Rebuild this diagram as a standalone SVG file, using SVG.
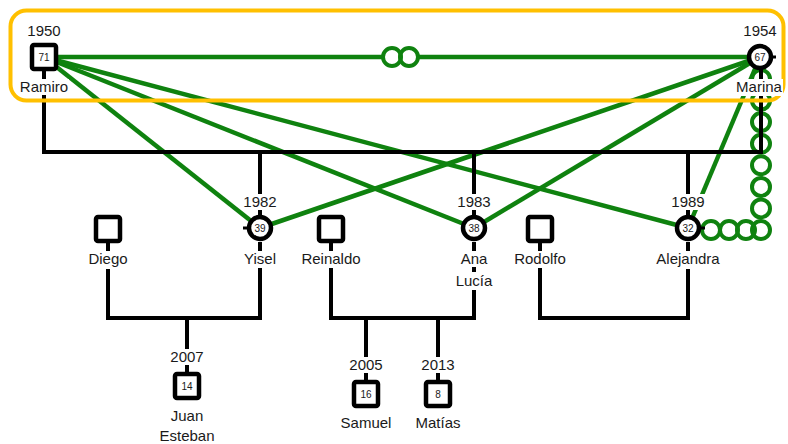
<svg xmlns="http://www.w3.org/2000/svg" width="788" height="444" viewBox="0 0 788 444">
  <style>
    text { font-family: "Liberation Sans", Arial, sans-serif; font-size: 15px; fill: #1a1a1a; text-anchor: middle; }
    text.age { font-size: 10px; }
    .bg { fill: #fff; }
    .fam { stroke: #000; stroke-width: 4; fill: none; }
    .tick { stroke: #000; stroke-width: 3; fill: none; }
    .rel { stroke: #0f820f; stroke-width: 4.5; fill: none; }
    .ring { stroke: #0f820f; stroke-width: 4; fill: none; }
    .male { fill: #fff; stroke: #000; stroke-width: 4.5; }
    .female { fill: #fff; stroke: #000; stroke-width: 4.5; }
    .house { fill: none; stroke: #ffc000; stroke-width: 4; }
  </style>

  <!-- relationship links (green) -->
  <g id="relations">
    <line class="rel" x1="44" y1="57" x2="382" y2="57"/>
    <line class="rel" x1="419" y1="57" x2="760" y2="57"/>
    <circle class="ring" cx="392" cy="57" r="9"/>
    <circle class="ring" cx="409" cy="57" r="9"/>
    <line class="rel" x1="44" y1="57" x2="260" y2="228"/>
    <line class="rel" x1="44" y1="57" x2="474" y2="228"/>
    <line class="rel" x1="44" y1="57" x2="688" y2="228"/>
    <line class="rel" x1="760" y1="57" x2="260" y2="228"/>
    <line class="rel" x1="760" y1="57" x2="474" y2="228"/>
    <line class="rel" x1="760" y1="57" x2="688" y2="228"/>
    <!-- chain of rings Marina to Alejandra -->
    <g id="chain">
      <circle class="ring" cx="761" cy="79" r="9"/>
      <circle class="ring" cx="761" cy="100.6" r="9"/>
      <circle class="ring" cx="761" cy="122.1" r="9"/>
      <circle class="ring" cx="761" cy="143.7" r="9"/>
      <circle class="ring" cx="761" cy="165.3" r="9"/>
      <circle class="ring" cx="761" cy="186.9" r="9"/>
      <circle class="ring" cx="761" cy="208.4" r="9"/>
      <circle class="ring" cx="761" cy="230" r="9"/>
      <circle class="ring" cx="746" cy="230" r="9"/>
      <circle class="ring" cx="729" cy="230" r="9"/>
      <circle class="ring" cx="711" cy="230" r="9"/>
    </g>
  </g>

  <!-- family lines (black) -->
  <g id="connectors">
    <polyline class="fam" points="44,71 44,152 761,152 761,69"/>
    <line class="fam" x1="260" y1="152" x2="260" y2="215"/>
    <line class="fam" x1="474" y1="152" x2="474" y2="215"/>
    <line class="fam" x1="688" y1="152" x2="688" y2="215"/>
    <polyline class="fam" points="108,243 108,318 260,318 260,242"/>
    <line class="fam" x1="187" y1="318" x2="187" y2="372"/>
    <polyline class="fam" points="331,243 331,318 474,318 474,242"/>
    <line class="fam" x1="366" y1="318" x2="366" y2="380"/>
    <line class="fam" x1="438" y1="318" x2="438" y2="380"/>
    <polyline class="fam" points="540,243 540,318 688,318 688,242"/>
    <line class="tick" x1="243" y1="228" x2="247" y2="228"/>
    <line class="tick" x1="701" y1="228" x2="705" y2="228"/>
    <line class="tick" x1="773" y1="57" x2="776" y2="57"/>
  </g>

  <!-- household frame -->
  <rect id="household" class="house" x="10.5" y="10.5" width="773" height="90" rx="16"/>

  <g id="ramiro">
    <rect class="bg" x="26" y="24" width="36" height="15"/>
    <text x="44" y="36">1950</text>
    <rect class="male" x="32" y="45" width="24" height="24" rx="2"/>
    <text class="age" x="44" y="61">71</text>
    <rect class="bg" x="19" y="79" width="50" height="16"/>
    <text x="44" y="92">Ramiro</text>
  </g>

  <g id="marina">
    <rect class="bg" x="742" y="24" width="36" height="15"/>
    <text x="760" y="36">1954</text>
    <circle class="female" cx="760" cy="57" r="11"/>
    <text class="age" x="760" y="61">67</text>
    <rect class="bg" x="735" y="79" width="48" height="17"/>
    <text x="759" y="92">Marina</text>
  </g>

  <g id="yisel">
    <rect class="bg" x="242" y="194" width="36" height="16"/>
    <text x="260" y="207">1982</text>
    <circle class="female" cx="260" cy="228" r="11"/>
    <text class="age" x="260" y="232">39</text>
    <rect class="bg" x="243" y="251" width="34" height="17"/>
    <text x="260" y="264">Yisel</text>
  </g>

  <g id="ana-lucia">
    <rect class="bg" x="456" y="194" width="36" height="16"/>
    <text x="474" y="207">1983</text>
    <circle class="female" cx="474" cy="228" r="11"/>
    <text class="age" x="474" y="232">38</text>
    <rect class="bg" x="460" y="251" width="28" height="16"/>
    <text x="474" y="264">Ana</text>
    <rect class="bg" x="455" y="272" width="38" height="18"/>
    <text x="474" y="286">Lucía</text>
  </g>

  <g id="alejandra">
    <rect class="bg" x="670" y="194" width="36" height="16"/>
    <text x="688" y="207">1989</text>
    <circle class="female" cx="688" cy="228" r="11"/>
    <text class="age" x="688" y="232">32</text>
    <rect class="bg" x="656" y="251" width="64" height="18"/>
    <text x="688" y="264">Alejandra</text>
  </g>

  <g id="diego">
    <rect class="male" x="96" y="217" width="24" height="24" rx="2"/>
    <rect class="bg" x="88" y="251" width="40" height="18"/>
    <text x="108" y="264">Diego</text>
  </g>

  <g id="reinaldo">
    <rect class="male" x="319" y="217" width="24" height="24" rx="2"/>
    <rect class="bg" x="301" y="251" width="60" height="17"/>
    <text x="331" y="264">Reinaldo</text>
  </g>

  <g id="rodolfo">
    <rect class="male" x="528" y="217" width="24" height="24" rx="2"/>
    <rect class="bg" x="514" y="251" width="52" height="17"/>
    <text x="540" y="264">Rodolfo</text>
  </g>

  <g id="juan-esteban">
    <rect class="bg" x="169" y="349" width="36" height="16"/>
    <text x="187" y="362">2007</text>
    <rect class="male" x="175" y="374" width="24" height="24" rx="2"/>
    <text class="age" x="187" y="390">14</text>
    <text x="187" y="421">Juan</text>
    <text x="187" y="441">Esteban</text>
  </g>

  <g id="samuel">
    <rect class="bg" x="348" y="357" width="36" height="16"/>
    <text x="366" y="370">2005</text>
    <rect class="male" x="354" y="382" width="24" height="24" rx="2"/>
    <text class="age" x="366" y="398">16</text>
    <text x="366" y="428">Samuel</text>
  </g>

  <g id="matias">
    <rect class="bg" x="420" y="357" width="36" height="16"/>
    <text x="438" y="370">2013</text>
    <rect class="male" x="426" y="382" width="24" height="24" rx="2"/>
    <text class="age" x="438" y="398">8</text>
    <text x="438" y="428">Matías</text>
  </g>
</svg>
